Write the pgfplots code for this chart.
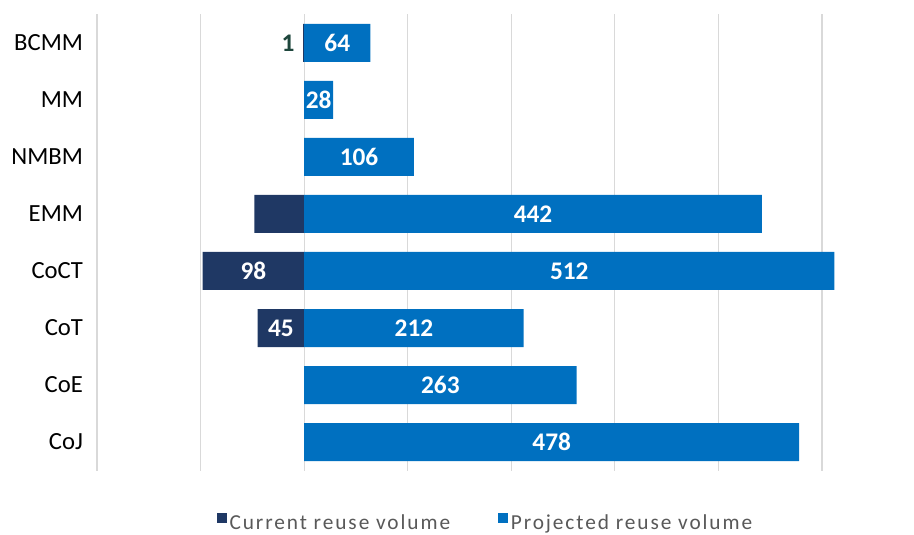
\documentclass[border=0pt]{standalone}
\usepackage{pgfplots}
\usepackage{pgfplotstable}
\usepackage{fontspec}
\setmainfont{Carlito}
\pgfplotsset{compat=1.18}
\definecolor{navy}{RGB}{31,56,100}
\definecolor{proj}{RGB}{0,112,192}
\definecolor{gridc}{RGB}{217,217,217}
\definecolor{legtext}{RGB}{89,89,89}
\definecolor{onecol}{RGB}{30,70,60}

\pgfplotstableread{
y x label
0 64 64
1 28 28
2 106 106
3 442 442
4 512 512
5 212 212
6 263 263
7 478 478
}\projected

\pgfplotstableread{
y x label
0 -1 {}
3 -48 {}
4 -98 98
5 -45 45
}\current

\pgfplotstableread{
y x label
0 -1 1
}\currentone

\begin{document}
\begin{tikzpicture}
\useasboundingbox (-72.75pt,-48.375pt) rectangle (612.75pt,352.875pt);
\begin{axis}[
  x=0.7768pt, y=42.75pt, y dir=reverse,
  xmin=-200, xmax=560, ymin=-0.5, ymax=7.5,
  xtick={-200,-100,...,500}, xticklabels={},
  xmajorgrids, ymajorgrids=false,
  grid style={gridc, line width=0.8pt},
  ytick={0,...,7},
  yticklabels={BCMM,MM,NMBM,EMM,CoCT,CoT,CoE,CoJ},
  yticklabel style={font=\fontsize{18.5}{21}\selectfont, xshift=-7pt},
  axis line style={draw=none},
  major tick length=0pt,
  xbar, bar width=28.5pt,
  legend style={at={(0.494,-0.115)}, anchor=center, draw=none,
    legend columns=2,
    font=\fontsize{16}{18}\selectfont\addfontfeature{LetterSpace=9},
    text=legtext,
    /tikz/every even column/.append style={column sep=34pt}},
  legend image code/.code={\fill[#1] (0pt,0pt) rectangle (7.5pt,7.5pt);},
]
\addplot[xbar, bar shift=0pt, fill=navy, draw=none,
  nodes near coords, point meta=explicit symbolic,
  nodes near coords align={center},
  visualization depends on={rawx \as \rawx},
  every node near coord/.append style={font=\bfseries\fontsize{19}{22}\selectfont, white, xshift={-0.5*\rawx*0.7768pt}}]
  table[x=x, y=y, meta=label] {\current};
\addlegendentry{Current reuse volume}
\addplot[xbar, bar shift=0pt, fill=proj, draw=none,
  nodes near coords, point meta=explicit symbolic,
  nodes near coords align={center},
  visualization depends on={rawx \as \rawx},
  every node near coord/.append style={font=\bfseries\fontsize{19}{22}\selectfont, white, xshift={-0.5*\rawx*0.7768pt}}]
  table[x=x, y=y, meta=label] {\projected};
\addlegendentry{Projected reuse volume}
\addplot[xbar, bar shift=0pt, fill=none, draw=none, forget plot,
  nodes near coords, point meta=explicit symbolic,
  nodes near coords align={center},
  every node near coord/.append style={font=\bfseries\fontsize{19}{22}\selectfont, onecol, anchor=east, xshift=-3pt}]
  table[x=x, y=y, meta=label] {\currentone};
\end{axis}
\end{tikzpicture}
\end{document}
